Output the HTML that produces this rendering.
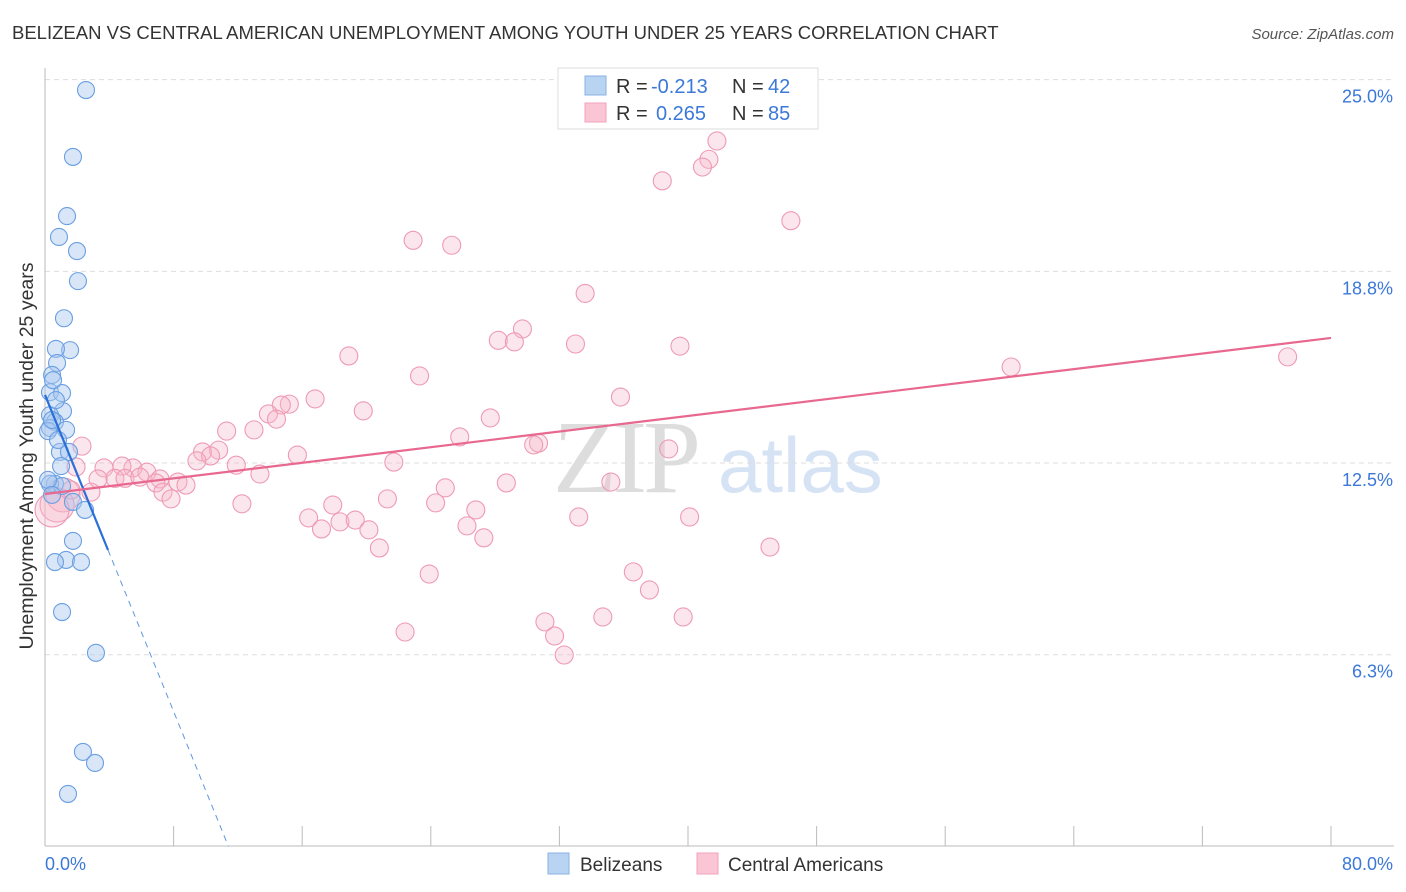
<!DOCTYPE html>
<html><head><meta charset="utf-8"><style>
body{margin:0;background:#fff;font-family:"Liberation Sans",sans-serif;}
svg{display:block}
</style></head><body>
<svg id="chart" width="1406" height="892" xmlns="http://www.w3.org/2000/svg">
<text x="12" y="39" font-size="18.5" fill="#333">BELIZEAN VS CENTRAL AMERICAN UNEMPLOYMENT AMONG YOUTH UNDER 25 YEARS CORRELATION CHART</text>
<text x="1394" y="39" font-size="15" fill="#555" font-style="italic" text-anchor="end">Source: ZipAtlas.com</text>
<text x="33" y="456" font-size="19.5" fill="#333" text-anchor="middle" transform="rotate(-90 33 456)">Unemployment Among Youth under 25 years</text>
<g id="watermark">
<text x="553" y="492" font-size="104" fill="#ddd" font-family="Liberation Serif,serif" letter-spacing="-4">ZIP</text>
<text x="718" y="492" font-size="78" fill="#d6e3f4">atlas</text>
</g>
<g id="grid"></g><g id="axes"></g><g id="marks"></g>
<g>
<rect x="558" y="68" width="260" height="61" fill="#fff" stroke="#ddd"/>
<rect x="585" y="76" width="21" height="19" fill="#b9d3f3" stroke="#8ab2e6"/>
<rect x="585" y="103" width="21" height="19" fill="#fac6d5" stroke="#f0a3ba"/>
<text x="616" y="93" font-size="20" fill="#333">R =</text>
<text x="651" y="93" font-size="20" fill="#3b78d8">-0.213</text>
<text x="732" y="93" font-size="20" fill="#333">N =</text>
<text x="768" y="93" font-size="20" fill="#3b78d8">42</text>
<text x="616" y="120" font-size="20" fill="#333">R =</text>
<text x="656" y="120" font-size="20" fill="#3b78d8">0.265</text>
<text x="732" y="120" font-size="20" fill="#333">N =</text>
<text x="768" y="120" font-size="20" fill="#3b78d8">85</text>
</g>
<g>
<rect x="548" y="853" width="21" height="21" fill="#b9d3f3" stroke="#8ab2e6"/>
<text x="580" y="871" font-size="19" fill="#333">Belizeans</text>
<rect x="697" y="853" width="21" height="21" fill="#fac6d5" stroke="#f0a3ba"/>
<text x="728" y="871" font-size="19" fill="#333">Central Americans</text>
</g>
</svg>
<script>
const blueX=[2.55,1.74,1.37,0.87,1.99,2.05,1.18,1.56,0.68,0.75,0.44,0.31,1.06,1.12,0.31,0.62,0.31,1.31,0.19,0.93,1.49,1.0,0.62,0.31,1.06,1.74,2.49,1.74,1.31,0.62,2.24,1.06,3.17,2.36,3.11,1.43,0.44,0.81,0.19,0.44,0.68,0.5];
const blueY=[24.66,22.48,20.55,19.87,19.41,18.43,17.22,16.18,16.22,15.76,15.37,14.81,14.78,14.19,14.06,13.84,13.64,13.58,13.54,12.86,12.86,12.40,11.82,11.82,11.75,11.23,10.97,9.96,9.34,9.27,9.27,7.64,6.31,3.08,2.72,1.71,13.90,13.25,11.95,11.46,14.55,15.2];
const pinkX=[41.8,41.3,40.9,38.4,46.4,22.9,25.3,33.6,29.7,28.2,29.2,33.0,39.5,18.9,77.3,60.1,23.3,35.8,16.8,15.2,14.7,19.8,13.9,14.4,27.7,11.3,13.0,25.8,30.7,30.4,38.8,2.3,9.8,10.8,10.3,9.45,15.7,11.9,21.7,1.93,3.67,5.47,4.79,6.34,4.35,4.98,3.3,5.9,7.15,8.27,8.77,13.37,6.9,35.2,28.7,2.86,7.34,7.84,24.9,21.3,24.3,12.25,17.9,1.12,0.75,0.44,1.62,16.4,33.2,40.1,18.35,19.3,26.8,17.2,20.15,26.25,27.3,20.8,45.1,23.9,36.6,37.6,31.1,34.7,39.7,22.4,31.7,32.3];
const pinkY=[23.0,22.4,22.15,21.7,20.4,19.76,19.6,18.03,16.87,16.5,16.45,16.38,16.31,15.99,15.96,15.63,15.34,14.65,14.59,14.42,14.39,14.2,14.1,13.93,13.97,13.54,13.58,13.35,13.15,13.09,12.96,13.05,12.86,12.92,12.73,12.57,12.76,12.43,12.53,12.37,12.34,12.34,12.4,12.2,12.0,12.0,11.98,12.04,11.98,11.88,11.78,12.14,11.85,11.88,11.85,11.55,11.55,11.33,11.69,11.33,11.2,11.17,11.13,11.46,11.13,10.97,11.62,10.71,10.74,10.74,10.58,10.64,10.97,10.35,10.32,10.45,10.06,9.73,9.76,8.88,8.95,8.36,7.32,7.48,7.48,6.99,6.86,6.24];
const pinkBig=[63,64,65];
const yTicks=[6.25,12.5,18.75,25];
const yTickLabels=["6.3%","12.5%","18.8%","25.0%"];
const xTicks=[0,8,16,24,32,40,48,56,64,72,80];
const blueTrend=[14.72,-1.29];
const pinkTrend=[11.49,0.0636];
const NS="http://www.w3.org/2000/svg";
const X=v=>45+v/80*1286;
const Y=v=>463-(v-12.5)*30.67;
function mk(tag,attrs,parent){const e=document.createElementNS(NS,tag);for(const k in attrs)e.setAttribute(k,attrs[k]);document.getElementById(parent).appendChild(e);return e;}
yTicks.forEach((t,i)=>{
 const g=mk('line',{x1:45,x2:1394,y1:Y(t),y2:Y(t),stroke:'#ddd','stroke-dasharray':'5,4'},'grid');
 
 
 const l=mk('text',{x:1393,y:Y(t)+23,'font-size':18,fill:'#3b78d8','text-anchor':'end'},'grid');
 l.textContent=yTickLabels[i];
 
 
});
const ya=mk('line',{x1:45,x2:45,y1:68,y2:846,stroke:'#bbb'},'axes');


const xa=mk('line',{x1:45,x2:1394,y1:846,y2:846,stroke:'#bbb'},'axes');


xTicks.forEach(t=>{const k=mk('line',{x1:X(t),x2:X(t),y1:826,y2:846,stroke:'#bbb'},'axes');
 
 });
const xl0=mk('text',{x:45,y:870,'font-size':18,fill:'#3b78d8'},'axes');xl0.textContent='0.0%';


const xl1=mk('text',{x:1393,y:870,'font-size':18,fill:'#3b78d8','text-anchor':'end'},'axes');xl1.textContent='80.0%';


pinkX.forEach((v,i)=>{const big=pinkBig.includes(i);
 const c=mk('circle',{cx:X(v),cy:Y(pinkY[i]),r:big?17:9,fill:'#f7b6ca',"fill-opacity":0.35,stroke:'#ee9ab5','stroke-width':1.1},'marks');
 
 });
blueX.forEach((v,i)=>{
 const c=mk('circle',{cx:X(v),cy:Y(blueY[i]),r:8.5,fill:'#a9c8f0',"fill-opacity":0.45,stroke:'#6a9fe2','stroke-width':1.1},'marks');
 
 });
const bx1=3.92, bx2=-blueTrend[0]/blueTrend[1];
const t1=mk('line',{x1:X(0),y1:Y(blueTrend[0]),x2:X(bx1),y2:Y(blueTrend[0]+blueTrend[1]*bx1),stroke:'#2a6fd8','stroke-width':2.2},'marks');


const t2=mk('line',{x1:X(bx1),y1:Y(blueTrend[0]+blueTrend[1]*bx1),x2:X(bx2),y2:Y(0),stroke:'#5f97e0','stroke-width':1,'stroke-dasharray':'6,5'},'marks');


const t3=mk('line',{x1:X(0),y1:Y(pinkTrend[0]),x2:X(80),y2:Y(pinkTrend[0]+pinkTrend[1]*80),stroke:'#e8688f','stroke-width':2.2},'marks');


</script>
</body></html>
